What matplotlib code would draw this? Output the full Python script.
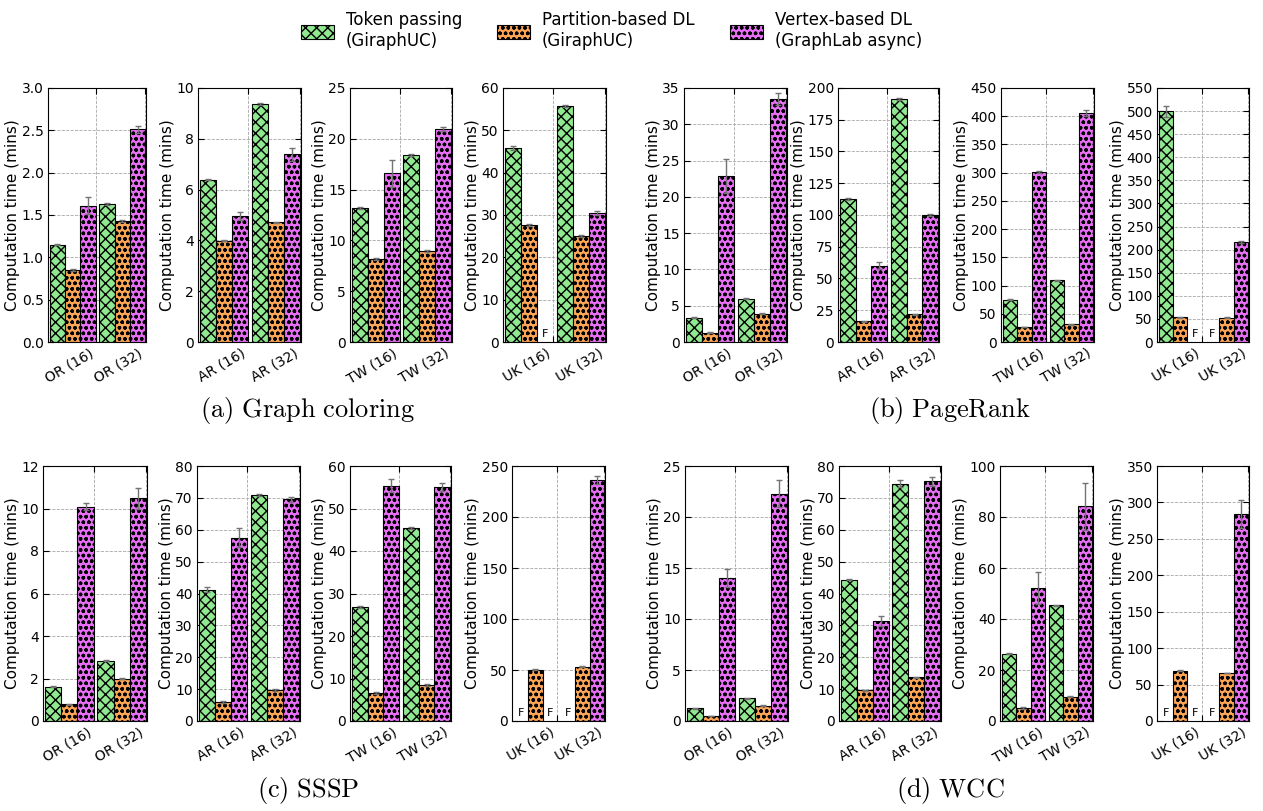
#!/usr/bin/env python3
"""Computation time of three deadlock-free approaches: 4 algorithms x 4 graphs."""

import numpy as np
import matplotlib

matplotlib.use("Agg")
import matplotlib.pyplot as plt
from matplotlib.patches import Patch

plt.rcParams["font.family"] = "DejaVu Sans"
plt.rcParams["mathtext.fontset"] = "cm"
plt.rcParams["hatch.linewidth"] = 1.0

GRAPHS = ["OR", "AR", "TW", "UK"]
WORKERS = ["16", "32"]
SERIES = ["Token passing\n(GiraphUC)", "Partition-based DL\n(GiraphUC)",
          "Vertex-based DL\n(GraphLab async)"]
COLORS = ["#90e890", "#fca554", "#e86ef5"]
HATCHES = ["xxx", "ooo", "ooo"]

# values in minutes, per graph: [16 machines, 32 machines]; None = failed (F)
coloring_token = [[1.15, 1.63], [6.39, 9.37], [13.2, 18.4], [45.8, 55.7]]
coloring_partition = [[0.85, 1.43], [3.99, 4.71], [8.2, 9.0], [27.6, 25.1]]
coloring_vertex = [[1.61, 2.51], [4.97, 7.39], [16.6, 20.95], [None, 30.5]]
coloring_token_err = [[0.01, 0.01], [0.03, 0.03], [0.1, 0.1], [0.4, 0.3]]
coloring_partition_err = [[0.01, 0.01], [0.03, 0.03], [0.1, 0.1], [0.3, 0.2]]
coloring_vertex_err = [[0.1, 0.04], [0.15, 0.25], [1.3, 0.2], [0.0, 0.5]]
coloring_ymax = [3.0, 10, 25, 60]
coloring_step = [0.5, 2, 5, 10]

pagerank_token = [[3.35, 5.96], [112.9, 191.4], [75.2, 109.5], [499.6, None]]
pagerank_partition = [[1.28, 3.9], [16.2, 21.7], [26.6, 31.4], [53.9, 52.5]]
pagerank_vertex = [[22.9, 33.5], [60.1, 99.9], [300.8, 405.6], [None, 216.4]]
pagerank_token_err = [[0.05, 0.05], [0.8, 0.8], [1.0, 1.0], [12, 0.0]]
pagerank_partition_err = [[0.05, 0.05], [0.3, 0.3], [0.5, 0.5], [1.0, 1.0]]
pagerank_vertex_err = [[2.3, 0.8], [2.5, 1.0], [2.0, 5.0], [0.0, 2.0]]
pagerank_ymax = [35, 200, 450, 550]
pagerank_step = [5, 25, 50, 50]

sssp_token = [[1.62, 2.84], [41.2, 70.9], [26.9, 45.4], [None, None]]
sssp_partition = [[0.78, 1.99], [5.96, 9.7], [6.55, 8.5], [50.3, 53.3]]
sssp_vertex = [[10.09, 10.48], [57.5, 69.5], [55.4, 55.1], [None, 236.3]]
sssp_token_err = [[0.02, 0.03], [0.8, 0.4], [0.2, 0.2], [0.0, 0.0]]
sssp_partition_err = [[0.02, 0.02], [0.2, 0.2], [0.2, 0.2], [0.5, 0.5]]
sssp_vertex_err = [[0.15, 0.5], [3.0, 0.7], [1.5, 1.0], [0.0, 4.0]]
sssp_ymax = [12, 80, 60, 250]
sssp_step = [2, 10, 10, 50]

wcc_token = [[1.25, 2.23], [44.3, 74.5], [26.3, 45.4], [None, None]]
wcc_partition = [[0.49, 1.5], [9.6, 13.7], [5.1, 9.6], [69.1, 65.9]]
wcc_vertex = [[14.02, 22.28], [31.4, 75.2], [52.0, 84.2], [None, 284.5]]
wcc_token_err = [[0.03, 0.03], [0.2, 1.0], [0.2, 0.2], [0.0, 0.0]]
wcc_partition_err = [[0.02, 0.03], [0.2, 0.2], [0.2, 0.2], [0.5, 0.5]]
wcc_vertex_err = [[0.9, 1.3], [1.5, 1.5], [6.3, 9.2], [0.0, 19.0]]
wcc_ymax = [25, 80, 100, 350]
wcc_step = [5, 10, 20, 50]

ALGORITHMS = [
    ("(a) Graph coloring", coloring_token, coloring_partition, coloring_vertex,
     coloring_token_err, coloring_partition_err, coloring_vertex_err,
     coloring_ymax, coloring_step),
    ("(b) PageRank", pagerank_token, pagerank_partition, pagerank_vertex,
     pagerank_token_err, pagerank_partition_err, pagerank_vertex_err,
     pagerank_ymax, pagerank_step),
    ("(c) SSSP", sssp_token, sssp_partition, sssp_vertex,
     sssp_token_err, sssp_partition_err, sssp_vertex_err,
     sssp_ymax, sssp_step),
    ("(d) WCC", wcc_token, wcc_partition, wcc_vertex,
     wcc_token_err, wcc_partition_err, wcc_vertex_err,
     wcc_ymax, wcc_step),
]

# axes pixel boxes (left, right) per row, and (top, bottom) per row
W, H = 1263, 811
ROW_X = [
    [(48, 146), (198, 301), (350, 452), (503, 606),
     (684, 787), (838, 939), (1001, 1094), (1157, 1249)],
    [(43, 147), (197, 300), (350, 451), (512, 605),
     (685, 788), (839, 941), (1000, 1093), (1157, 1249)],
]
ROW_Y = [(88, 342), (466, 721)]
CAPTION_XY = [(308, 410), (950, 410), (308, 790), (950, 790)]
BAR_W = 0.31


def draw_panel(ax, graph, series, errs, ymax, step):
    ind = np.arange(len(WORKERS))
    for k, (vals, err) in enumerate(zip(series, errs)):
        xs = ind + (k - 1) * BAR_W
        for x, v, e in zip(xs, vals, err):
            if v is None:
                ax.text(x, ymax * 0.012, "F", ha="center", va="bottom",
                        fontsize=8)
                continue
            ax.bar(x, v, BAR_W, color=COLORS[k], hatch=HATCHES[k],
                   edgecolor="black", linewidth=0.8, zorder=2)
            ax.errorbar(x, v, yerr=e, ecolor="0.45", elinewidth=1.0,
                        capsize=2, capthick=1.0, fmt="none", zorder=3)
    ax.set_xlim(-0.5, 1.48)
    ax.set_ylim(0, ymax)
    ax.set_yticks(np.arange(0, ymax + step / 2, step))
    if step < 1:
        ax.set_yticklabels([f"{t:.1f}" for t in ax.get_yticks()])
    else:
        ax.set_yticklabels([f"{t:.0f}" for t in ax.get_yticks()])
    ax.set_xticks(ind + 1.5 * BAR_W)
    ax.set_xticklabels([f"{graph} ({w})" for w in WORKERS], rotation=30,
                       ha="right", fontsize=10)
    ax.set_ylabel("Computation time (mins)", fontsize=11, labelpad=1)
    ax.tick_params(direction="in", top=True, right=True, length=4,
                   labelsize=10, pad=3)
    ax.grid(True, ls="--", color="0.65", lw=0.6, zorder=0)
    ax.set_axisbelow(True)


def main():
    fig = plt.figure(figsize=(W / 100, H / 100), dpi=100)
    for a, (caption, tok, par, ver, tok_e, par_e, ver_e, ymaxs, steps) \
            in enumerate(ALGORITHMS):
        row = a // 2
        top, bottom = ROW_Y[row]
        for g, graph in enumerate(GRAPHS):
            left, right = ROW_X[row][(a % 2) * 4 + g]
            ax = fig.add_axes([left / W, 1 - bottom / H, (right - left) / W,
                               (bottom - top) / H])
            draw_panel(ax, graph, [tok[g], par[g], ver[g]],
                       [tok_e[g], par_e[g], ver_e[g]], ymaxs[g], steps[g])
        cx, cy = CAPTION_XY[a]
        fig.text(cx / W, 1 - cy / H,
                 "$\\mathrm{" + caption.replace(" ", "\\ ") + "}$",
                 ha="center", va="center", fontsize=19)

    handles = [Patch(facecolor=c, hatch=h, edgecolor="black", linewidth=0.8)
               for c, h in zip(COLORS, HATCHES)]
    fig.legend(handles, SERIES, loc="upper center", ncol=3, frameon=False,
               bbox_to_anchor=(0.484, 1.005), fontsize=12, handlelength=2.0,
               handleheight=0.9, columnspacing=2.1, handletextpad=0.7)
    fig.savefig("out.png", dpi=100)
    plt.close(fig)


if __name__ == "__main__":
    main()
